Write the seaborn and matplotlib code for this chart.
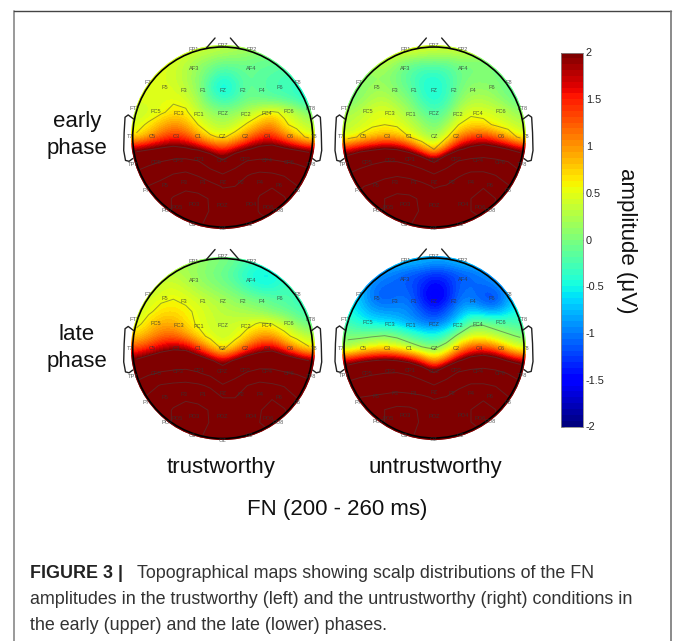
import numpy as np
import matplotlib
matplotlib.use("Agg")
import matplotlib.pyplot as plt
from matplotlib.lines import Line2D
from matplotlib.patches import Circle
import seaborn as sns

# -----------------------------
# AMPLITUDES (uV): rows front to back, columns left to right
# -----------------------------

EARLY_TRUSTWORTHY = [
    [.48, .48, .48, .48, .45, .4, .35, .3, .25, .2, .1, 0, -.1, -.2, -.3],
    [.48, .48, .48, .45, .3, .15, .05, -.05, -.05, -.05, -.1, -.1, -.15, -.2, -.3],
    [.48, .48, .45, .4, .25, .1, -.15, -.35, -.25, -.1, -.15, -.2, -.25, -.3, -.4],
    [.48, .45, .45, .45, .3, .1, -.3, -.6, -.4, -.1, -.15, -.25, -.3, -.35, -.5],
    [.48, .48, .48, .5, .45, .2, -.15, -.35, -.25, -.05, -.1, -.15, -.2, -.3, -.45],
    [.3, .4, .5, .65, .6, .35, .15, .05, .1, .25, .45, .6, .5, .25, 0],
    [.45, .6, .85, 1.0, .9, .55, .35, .25, .35, .6, .85, 1.05, .6, .45, .3],
    [.6, .9, 1.2, 1.4, 1.3, .95, .6, .5, .7, 1.05, 1.4, 1.45, 1.1, .75, .45],
    [1.8, 1.95, 2.1, 2.2, 2.1, 1.9, 1.6, 1.4, 1.6, 1.95, 2.2, 2.3, 2.1, 1.9, 1.7],
    [2.8, 3.1, 3.4, 3.7, 3.8, 3.5, 2.7, 2.1, 2.8, 3.5, 3.7, 3.6, 3.4, 3.2, 2.9],
    [3.6, 4.0, 4.3, 4.8, 5.0, 4.6, 3.9, 3.4, 3.9, 4.7, 5.0, 4.9, 4.6, 4.2, 3.8],
    [4.4, 4.85, 5.3, 5.7, 5.9, 5.7, 5.3, 4.7, 4.8, 5.4, 5.9, 6.1, 5.7, 4.85, 4.3],
    [4.6, 5.1, 5.7, 6.3, 6.7, 6.6, 6.1, 5.4, 5.1, 5.5, 6.3, 6.8, 6.3, 5.3, 4.6],
    [4.6, 5.0, 5.7, 6.3, 6.9, 6.9, 6.1, 5.3, 5.1, 5.5, 6.3, 6.7, 6.2, 5.3, 4.6],
    [4.5, 4.9, 5.4, 5.9, 6.3, 6.4, 5.9, 5.2, 5.0, 5.3, 5.8, 6.1, 5.7, 5.2, 4.5],
]

EARLY_UNTRUSTWORTHY = [
    [.4, .48, .5, .5, .5, .5, .45, .4, .4, .4, .4, .3, .2, .1, 0],
    [.1, .2, .3, .3, .1, -.05, -.1, -.1, -.1, 0, 0, 0, 0, -.1, -.2],
    [0, .05, .1, .1, -.05, -.2, -.35, -.4, -.3, -.1, 0, 0, 0, -.1, -.2],
    [-.1, .05, .15, .15, 0, -.15, -.4, -.5, -.35, -.05, .1, .1, .05, -.1, -.2],
    [-.05, .1, .25, .3, .15, 0, -.3, -.45, -.3, .05, .25, .25, .15, 0, -.15],
    [.2, .3, .45, .5, .35, .15, -.1, -.25, -.1, .3, .5, .45, .4, .25, .1],
    [.3, .4, .5, .55, .5, .35, .15, -.05, .15, .55, .65, .65, .5, .4, .3],
    [.4, .6, .75, .85, .8, .55, .3, .15, .5, 1.05, 1.3, 1.35, 1.1, .8, .45],
    [1.5, 1.75, 1.9, 2.05, 1.95, 1.6, 1.0, .55, 1.2, 1.9, 2.2, 2.4, 2.25, 2.0, 1.7],
    [2.5, 2.9, 3.2, 3.4, 3.4, 3.1, 2.6, 1.9, 2.8, 3.5, 3.8, 3.9, 3.7, 3.4, 2.8],
    [3.4, 3.8, 4.1, 4.4, 4.6, 4.4, 4.0, 3.4, 3.9, 4.6, 5.0, 5.0, 4.7, 4.2, 3.6],
    [4.2, 4.7, 5.0, 5.4, 5.6, 5.5, 5.2, 4.7, 4.9, 5.4, 5.9, 6.1, 5.6, 4.9, 4.2],
    [4.5, 5.0, 5.6, 6.2, 6.6, 6.5, 6.0, 5.3, 5.1, 5.5, 6.2, 6.7, 6.2, 5.3, 4.5],
    [4.5, 4.9, 5.6, 6.2, 6.8, 6.8, 6.0, 5.2, 5.0, 5.4, 6.2, 6.6, 6.1, 5.2, 4.5],
    [4.4, 4.8, 5.3, 5.8, 6.2, 6.3, 5.8, 5.1, 4.9, 5.2, 5.7, 6.0, 5.6, 5.1, 4.4],
]

LATE_TRUSTWORTHY = [
    [.2, .2, .25, .25, .2, .15, .05, 0, -.1, -.25, -.35, -.4, -.4, -.4, -.4],
    [.2, .25, .3, .3, .2, .1, 0, -.1, -.25, -.45, -.55, -.55, -.4, -.35, -.4],
    [.1, .25, .4, .45, .35, .2, .1, 0, -.1, -.3, -.45, -.45, -.3, -.3, -.4],
    [.3, .45, .5, .55, .5, .4, .3, .2, .1, 0, -.05, -.15, -.2, -.3, -.4],
    [.35, .5, .65, .7, .6, .5, .4, .3, .25, .2, .1, 0, -.1, -.2, -.3],
    [.45, .7, .9, .9, .7, .5, .4, .35, .4, .45, .6, .55, .4, .1, -.1],
    [.75, .95, 1.15, 1.2, 1.0, .7, .45, .35, .45, .7, .95, .95, .65, .45, .3],
    [1.3, 1.45, 1.75, 1.9, 1.85, 1.4, .9, .5, .8, 1.3, 1.65, 1.8, 1.35, .9, .6],
    [2.1, 2.4, 2.6, 2.8, 2.75, 2.5, 2.1, 1.7, 2.1, 2.5, 2.75, 2.8, 2.6, 2.3, 2.0],
    [2.9, 3.2, 3.5, 3.6, 3.7, 3.5, 3.0, 2.5, 3.0, 3.5, 3.75, 3.7, 3.5, 3.3, 3.0],
    [3.7, 4.4, 4.9, 5.1, 5.2, 5.0, 4.6, 3.5, 3.9, 4.8, 5.2, 5.0, 4.7, 4.3, 3.8],
    [4.4, 5.0, 5.5, 5.8, 6.0, 5.8, 5.5, 4.8, 4.8, 5.4, 6.0, 6.1, 5.6, 4.8, 4.3],
    [4.6, 5.1, 5.7, 6.3, 6.7, 6.6, 6.1, 5.3, 5.0, 5.4, 6.1, 6.8, 6.3, 5.3, 4.6],
    [4.6, 5.0, 5.7, 6.3, 6.9, 6.9, 6.1, 5.2, 4.9, 5.3, 6.2, 6.8, 6.3, 5.3, 4.6],
    [4.5, 4.9, 5.4, 5.9, 6.3, 6.4, 5.9, 5.2, 5.0, 5.3, 5.8, 6.1, 5.7, 5.2, 4.5],
]

LATE_UNTRUSTWORTHY = [
    [-.5, -.5, -.55, -.6, -.65, -.7, -.75, -.8, -.8, -.7, -.65, -.6, -.5, -.5, -.5],
    [-.5, -.6, -.8, -.95, -1.05, -1.15, -1.2, -1.3, -1.25, -1.15, -1.1, -.95, -.8, -.65, -.5],
    [-.5, -.7, -1.0, -1.1, -1.1, -1.15, -1.35, -1.55, -1.4, -1.1, -1.05, -1.1, -1.0, -.75, -.55],
    [-.55, -.75, -1.05, -1.15, -1.05, -1.05, -1.4, -1.65, -1.45, -1.05, -1.0, -1.2, -1.25, -.85, -.6],
    [-.45, -.65, -.85, -.9, -.9, -.95, -1.15, -1.35, -1.15, -.85, -.7, -.85, -.9, -.65, -.45],
    [-.3, -.45, -.55, -.6, -.7, -.85, -1.0, -1.05, -.9, -.55, -.05, -.02, -.15, -.2, -.3],
    [0, -.05, 0, .05, -.05, -.25, -.4, -.5, -.3, .15, .4, .4, .25, .1, 0],
    [.15, .4, .55, .6, .5, .3, .1, 0, .3, .85, 1.25, 1.3, 1.05, .65, .35],
    [1.55, 1.8, 1.95, 2.05, 1.95, 1.7, 1.25, .75, 1.2, 1.9, 2.3, 2.5, 2.3, 1.9, 1.6],
    [2.7, 3.0, 3.2, 3.35, 3.4, 3.2, 2.7, 2.0, 2.8, 3.5, 3.8, 3.9, 3.7, 3.3, 2.8],
    [3.7, 4.0, 4.2, 4.3, 4.4, 4.2, 3.9, 3.4, 3.9, 4.5, 4.9, 4.9, 4.7, 4.2, 3.7],
    [4.4, 4.8, 4.9, 5.0, 5.1, 5.1, 5.0, 4.7, 4.85, 5.4, 5.9, 6.0, 5.6, 4.85, 4.3],
    [4.6, 5.0, 5.6, 6.2, 6.6, 6.5, 6.0, 5.3, 5.0, 5.4, 6.2, 6.7, 6.2, 5.3, 4.6],
    [4.6, 5.0, 5.6, 6.2, 6.8, 6.8, 6.0, 5.2, 5.0, 5.4, 6.2, 6.7, 6.2, 5.2, 4.6],
    [4.5, 4.9, 5.4, 5.9, 6.3, 6.4, 5.9, 5.2, 5.0, 5.3, 5.8, 6.1, 5.7, 5.2, 4.5],
]

LEVELS_WARM = [.55, 2.0, 3.4, 4.8, 6.2]
LEVELS_COOL = [.05, 2.0, 3.4, 4.8, 6.2]

CBAR_TICKS = [-2, -1.5, -1, -.5, 0, .5, 1, 1.5, 2]

# -----------------------------
# ELECTRODES (offset from head centre, in head radii, y towards the front)
# -----------------------------

ELECTRODES = ["FP1", "FPZ", "FP2", "AF3", "AF4",
              "F7", "F5", "F3", "F1", "FZ", "F2", "F4", "F6", "F8",
              "FT7", "FC5", "FC3", "FC1", "FCZ", "FC2", "FC4", "FC6", "FT8",
              "T7", "C5", "C3", "C1", "CZ", "C2", "C4", "C6", "T8",
              "TP7", "CP5", "CP3", "CP1", "CPZ", "CP2", "CP4", "CP6", "TP8",
              "P7", "P5", "P3", "P1", "PZ", "P2", "P4", "P6", "P8",
              "PO7", "PO5", "PO3", "POZ", "PO4", "PO6", "PO8",
              "O1", "OZ", "O2"]
ELECTRODE_X = [-.32, 0, .32, -.32, .32,
               -.83, -.64, -.43, -.22, 0, .22, .43, .64, .83,
               -.98, -.74, -.49, -.26, 0, .26, .49, .74, .98,
               -1.03, -.78, -.52, -.27, 0, .25, .5, .75, 1.02,
               -1.0, -.74, -.49, -.26, 0, .25, .49, .74, .98,
               -.85, -.64, -.43, -.22, 0, .2, .41, .62, .82,
               -.62, -.51, -.32, 0, .32, .51, .62,
               -.33, 0, .3]
ELECTRODE_Y = [.97, 1.02, .97, .76, .76,
               .6, .55, .52, .52, .52, .52, .52, .55, .6,
               .32, .28, .26, .25, .26, .25, .26, .28, .32,
               0, 0, 0, 0, 0, 0, 0, 0, 0,
               -.31, -.28, -.26, -.25, -.26, -.25, -.26, -.28, -.31,
               -.6, -.54, -.51, -.51, -.5, -.51, -.51, -.54, -.6,
               -.82, -.78, -.75, -.76, -.75, -.78, -.82,
               -.97, -1.02, -.97]

# -----------------------------
# LAYOUT
# -----------------------------

FIG_W, FIG_H = 673, 641
CELL_PX = 12.33
HEAD_PX = 90.0


def add_axes_px(fig, cx, cy, half):
    return fig.add_axes([(cx - half) / FIG_W, 1 - (cy + half) / FIG_H,
                         2 * half / FIG_W, 2 * half / FIG_H])


def text_px(fig, x, y, s, **kw):
    fig.text(x / FIG_W, 1 - y / FIG_H, s, **kw)


def draw_head(ax, values, levels, cmap, cbar_ax=None):
    grid = np.array(values)
    n = grid.shape[0]
    mid = n / 2
    r = HEAD_PX / CELL_PX

    sns.heatmap(grid, ax=ax, cmap=cmap, vmin=-2, vmax=2, square=True,
                xticklabels=False, yticklabels=False,
                cbar=cbar_ax is not None, cbar_ax=cbar_ax,
                cbar_kws={"ticks": CBAR_TICKS, "format": "%g"})

    clip = Circle((mid, mid), r * 1.02, transform=ax.transData)
    ax.collections[0].set_clip_path(clip)
    # same cells, smoothed on top of the mesh like the interpolated scalp map
    image = ax.imshow(grid, extent=(0, n, n, 0), cmap=cmap, vmin=-2, vmax=2,
                      interpolation="bicubic", aspect="equal", zorder=1.5)
    image.set_clip_path(clip)

    centres = np.arange(n) + .5
    lines = ax.contour(centres, centres, grid, levels=levels,
                       colors="#444444", linewidths=.7, alpha=.5, zorder=2)
    lines.set_clip_path(Circle((mid, mid), r, transform=ax.transData))

    ax.set_xlim(0, n)
    ax.set_ylim(n, 0)
    ax.axis("off")

    # outline, nose and ears
    ax.add_patch(Circle((mid, mid), r, fill=False, ec="black", lw=1.2, clip_on=False, zorder=3))
    nose_x = np.array([.18, .085])
    nose_y = np.array([.99, 1.1])
    ear_x = np.array([.99, 1.05, 1.085, 1.095, 1.1, 1.08, 1.04, 1.0])
    ear_y = np.array([.2, .245, .22, .05, -.15, -.26, -.27, -.24])
    for side in (-1, 1):
        ax.plot(mid + side * nose_x * r, mid - nose_y * r, color="#222222", lw=1, clip_on=False)
        ax.plot(mid + side * ear_x * r, mid - ear_y * r, color="#222222", lw=1, clip_on=False)

    for name, ex, ey in zip(ELECTRODES, ELECTRODE_X, ELECTRODE_Y):
        ax.text(mid + ex * r, mid - ey * r, name, fontsize=4.1, color="#333333",
                alpha=.8, ha="center", va="center", clip_on=False, zorder=4)
    return ax


sns.set_style("white")
plt.rcParams["font.family"] = ["Liberation Sans", "DejaVu Sans"]

fig = plt.figure(figsize=(FIG_W / 100, FIG_H / 100), dpi=100)
half = 7.5 * CELL_PX
cmap = plt.get_cmap("jet", 64)

cax = fig.add_axes([561 / FIG_W, 1 - 426.5 / FIG_H, 22 / FIG_W, 374 / FIG_H])

first = draw_head(add_axes_px(fig, 222.7, 137, half), EARLY_TRUSTWORTHY, LEVELS_WARM, cmap, cbar_ax=cax)
draw_head(add_axes_px(fig, 434, 137, half), EARLY_UNTRUSTWORTHY, LEVELS_WARM, cmap)
draw_head(add_axes_px(fig, 222.7, 348.5, half), LATE_TRUSTWORTHY, LEVELS_WARM, cmap)
draw_head(add_axes_px(fig, 434, 348, half), LATE_UNTRUSTWORTHY, LEVELS_COOL, cmap)

# colour bar
cax.yaxis.set_ticks_position("both")
cax.tick_params(axis="y", which="both", direction="in", length=2.5, width=.6,
                color="#444444", labelsize=7.8, labelcolor="#222222", pad=2,
                labelleft=False, labelright=True)
outline = first.collections[0].colorbar.outline
outline.set_linewidth(.6)
outline.set_edgecolor("#888888")

text_px(fig, 627, 241, "amplitude (μV)", fontsize=16, rotation=-90,
        ha="center", va="center", color="#111111")

# row and column headings
text_px(fig, 77, 135, "early\nphase", fontsize=16, ha="center", va="center",
        linespacing=1.35, color="#111111")
text_px(fig, 77, 348, "late\nphase", fontsize=16, ha="center", va="center",
        linespacing=1.35, color="#111111")
text_px(fig, 221, 467, "trustworthy", fontsize=16, ha="center", va="center", color="#111111")
text_px(fig, 435, 467, "untrustworthy", fontsize=16, ha="center", va="center", color="#111111")
text_px(fig, 337, 510, "FN (200 - 260 ms)", fontsize=16, ha="center", va="center", color="#111111")

# caption
text_px(fig, 30, 574, "FIGURE 3 |", fontsize=12.9, fontweight="bold", va="center", color="#222222")
text_px(fig, 137, 574, "Topographical maps showing scalp distributions of the FN",
        fontsize=12.9, va="center", color="#333333")
text_px(fig, 30, 600, "amplitudes in the trustworthy (left) and the untrustworthy (right) conditions in",
        fontsize=12.9, va="center", color="#333333")
text_px(fig, 30, 626, "the early (upper) and the late (lower) phases.",
        fontsize=12.9, va="center", color="#333333")

# page frame, open at the bottom
for xs, ys, col, lw in [((14, 14), (11, 641), "#999999", 1.4),
                        ((14, 671), (11, 11), "#444444", 1.0),
                        ((671, 671), (11, 641), "#777777", 1.2)]:
    fig.add_artist(Line2D([x / FIG_W for x in xs], [1 - y / FIG_H for y in ys], color=col, lw=lw))

fig.savefig("out.png", dpi=100)
